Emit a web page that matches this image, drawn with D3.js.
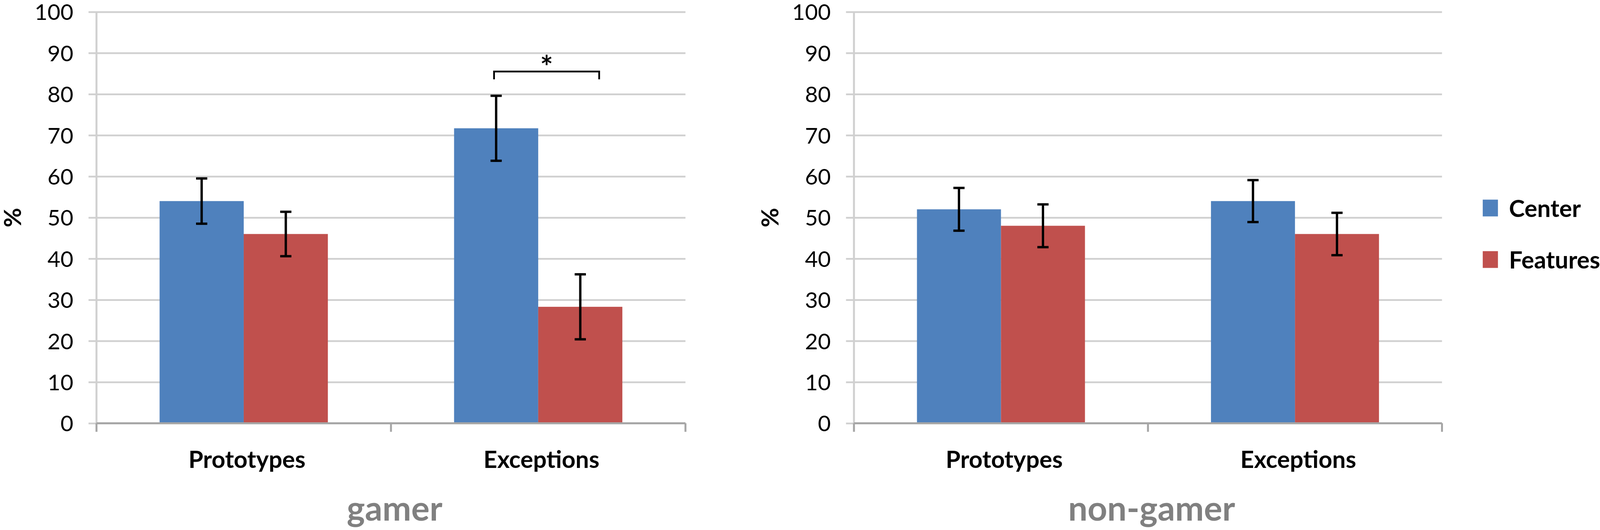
<!DOCTYPE html>
<html><head><meta charset="utf-8">
<script src="https://cdn.jsdelivr.net/npm/d3@7"></script>
<style>
html,body{margin:0;padding:0;width:100%;height:100%;overflow:hidden;background:#fff;}
svg{display:block;position:absolute;left:0;top:0;}
text{font-family:Lato,'Open Sans',sans-serif;}
</style>
</head><body>
<svg id="chart"></svg>
<script>
// ---- data ----
const categories = ["Prototypes", "Exceptions"];
const seriesNames = ["Center", "Features"];
const panelTitles = ["gamer", "non-gamer"];
const gamerCenter = [54, 71.7];
const gamerCenterErr = [5.5, 7.9];
const gamerFeatures = [46, 28.3];
const gamerFeaturesErr = [5.4, 7.9];
const nonGamerCenter = [52, 54];
const nonGamerCenterErr = [5.2, 5.1];
const nonGamerFeatures = [48, 46];
const nonGamerFeaturesErr = [5.2, 5.15];
const yTicks = [0, 10, 20, 30, 40, 50, 60, 70, 80, 90, 100];
const yLabel = "%";
const sigPanel = 0, sigCategory = "Exceptions", sigLabel = "*", sigLevel = 85.5;
const colors = ["#4F81BD", "#C0504D"];

const panelValues = [
  [gamerCenter, gamerFeatures],
  [nonGamerCenter, nonGamerFeatures]
];
const panelErrors = [
  [gamerCenterErr, gamerFeaturesErr],
  [nonGamerCenterErr, nonGamerFeaturesErr]
];

// ---- layout (designed on a 4421 x 1358 canvas, fitted to the viewport) ----
const W = window.innerWidth || 4421, H = window.innerHeight || 1358;
const sx = W / 4421, sy = H / 1358;
const X = v => v * sx, Y = v => v * sy, F = v => v * sy;
const svg = d3.select("#chart").attr("width", W).attr("height", H);
svg.append("rect").attr("width", W).attr("height", H).attr("fill", "#fff");
const panels = [{x0: X(266.6), x1: X(1894)}, {x0: X(2359.6), x1: X(3984.4)}];
const y = d3.scaleLinear().domain([0, 100]).range([Y(1084.4), Y(30.4)]);
const gridColor = "#d0d0d0", axisColor = "#a6a6a6";

panels.forEach((p, pi) => {
  const w = p.x1 - p.x0;
  const g = svg.append("g").attr("transform", `translate(${p.x0},0)`);
  const xBand = d3.scaleBand().domain(categories).range([0, w]).paddingInner(0).paddingOuter(0);
  const xSub = d3.scaleBand().domain(seriesNames).range([0, xBand.bandwidth()]).paddingInner(0).paddingOuter(0.75);

  // y axis, tick labels and gridlines
  const ya = g.append("g").call(d3.axisLeft(y).tickValues(yTicks).tickSize(0).tickPadding(X(64)));
  ya.select(".domain").remove();
  ya.selectAll(".tick text").attr("font-size", F(57)).attr("fill", "#000").attr("dy", "0.36em")
    .style("font-family", "Lato,'Open Sans',sans-serif");
  ya.selectAll(".tick").append("line")
    .attr("x1", -X(22)).attr("x2", w).attr("y1", 0).attr("y2", 0)
    .attr("stroke", gridColor).attr("stroke-width", 4.5);
  g.append("line").attr("x1", 0).attr("x2", 0).attr("y1", y(100)).attr("y2", y(0))
    .attr("stroke", gridColor).attr("stroke-width", 5);

  // bars
  seriesNames.forEach((s, si) => {
    const vals = panelValues[pi][si];
    g.selectAll(null).data(categories).enter().append("rect")
      .attr("x", c => xBand(c) + xSub(s))
      .attr("width", xSub.bandwidth())
      .attr("y", (c, i) => y(vals[i]))
      .attr("height", (c, i) => y(0) - y(vals[i]))
      .attr("fill", colors[si]);
  });

  // x axis
  g.append("line").attr("x1", 0).attr("x2", w).attr("y1", y(0)).attr("y2", y(0))
    .attr("stroke", axisColor).attr("stroke-width", 5);
  const boundaries = [0].concat(categories.map(c => xBand(c) + xBand.bandwidth()));
  g.selectAll(null).data(boundaries).enter().append("line")
    .attr("x1", d => d).attr("x2", d => d).attr("y1", y(0)).attr("y2", y(0) + Y(22))
    .attr("stroke", axisColor).attr("stroke-width", 5);

  // error bars
  seriesNames.forEach((s, si) => {
    const vals = panelValues[pi][si], errs = panelErrors[pi][si];
    categories.forEach((c, i) => {
      const cx = xBand(c) + xSub(s) + xSub.bandwidth() / 2;
      const top = y(vals[i] + errs[i]), bot = y(vals[i] - errs[i]);
      const eg = g.append("g").attr("stroke", "#000").attr("stroke-width", 6);
      eg.append("line").attr("x1", cx).attr("x2", cx).attr("y1", top).attr("y2", bot);
      eg.append("line").attr("x1", cx - X(15.5)).attr("x2", cx + X(15.5)).attr("y1", top).attr("y2", top);
      eg.append("line").attr("x1", cx - X(15.5)).attr("x2", cx + X(15.5)).attr("y1", bot).attr("y2", bot);
    });
  });

  // category labels
  g.selectAll(null).data(categories).enter().append("text")
    .attr("x", c => xBand(c) + xBand.bandwidth() / 2 + X(9))
    .attr("y", Y(1199))
    .attr("text-anchor", "middle").attr("font-size", F(61)).attr("font-weight", "bold").attr("fill", "#000")
    .text(c => c);

  // y label
  g.append("text").attr("transform", `translate(${-X(232)},${y(50)}) rotate(-90)`)
    .attr("text-anchor", "middle").attr("dy", "0.36em")
    .attr("font-size", F(61)).attr("font-weight", "bold").attr("fill", "#000").text(yLabel);

  // panel title
  g.append("text").attr("x", w / 2 + X(10)).attr("y", Y(1334)).attr("text-anchor", "middle")
    .attr("font-size", F(88)).attr("font-weight", "bold").attr("fill", "#808080").text(panelTitles[pi]);

  // significance bracket
  if (pi === sigPanel) {
    const bx = xBand(sigCategory), bw = xBand.bandwidth();
    const lx = bx + bw * 0.35, rx = bx + bw * 0.707;
    const yt = y(sigLevel), yb = y(sigLevel) + Y(20);
    g.append("path").attr("d", `M${lx},${yb}V${yt}H${rx}V${yb}`)
      .attr("fill", "none").attr("stroke", "#000").attr("stroke-width", 4.5);
    g.append("text").attr("x", (lx + rx) / 2).attr("y", yt + Y(17)).attr("text-anchor", "middle")
      .attr("font-size", F(78)).attr("font-weight", "bold").attr("fill", "#000").text(sigLabel);
  }
});

// legend
const legend = svg.append("g").attr("transform", `translate(${X(4097)},0)`);
seriesNames.forEach((s, i) => {
  const cy = Y(533 + i * 132);
  legend.append("rect").attr("x", 0).attr("y", cy - Y(21.5)).attr("width", X(42)).attr("height", Y(43)).attr("fill", colors[i]);
  legend.append("text").attr("x", X(72.5)).attr("y", cy + Y(23)).attr("font-size", F(61)).attr("font-weight", "bold")
    .attr("fill", "#000").text(s);
});
</script>
</body></html>
